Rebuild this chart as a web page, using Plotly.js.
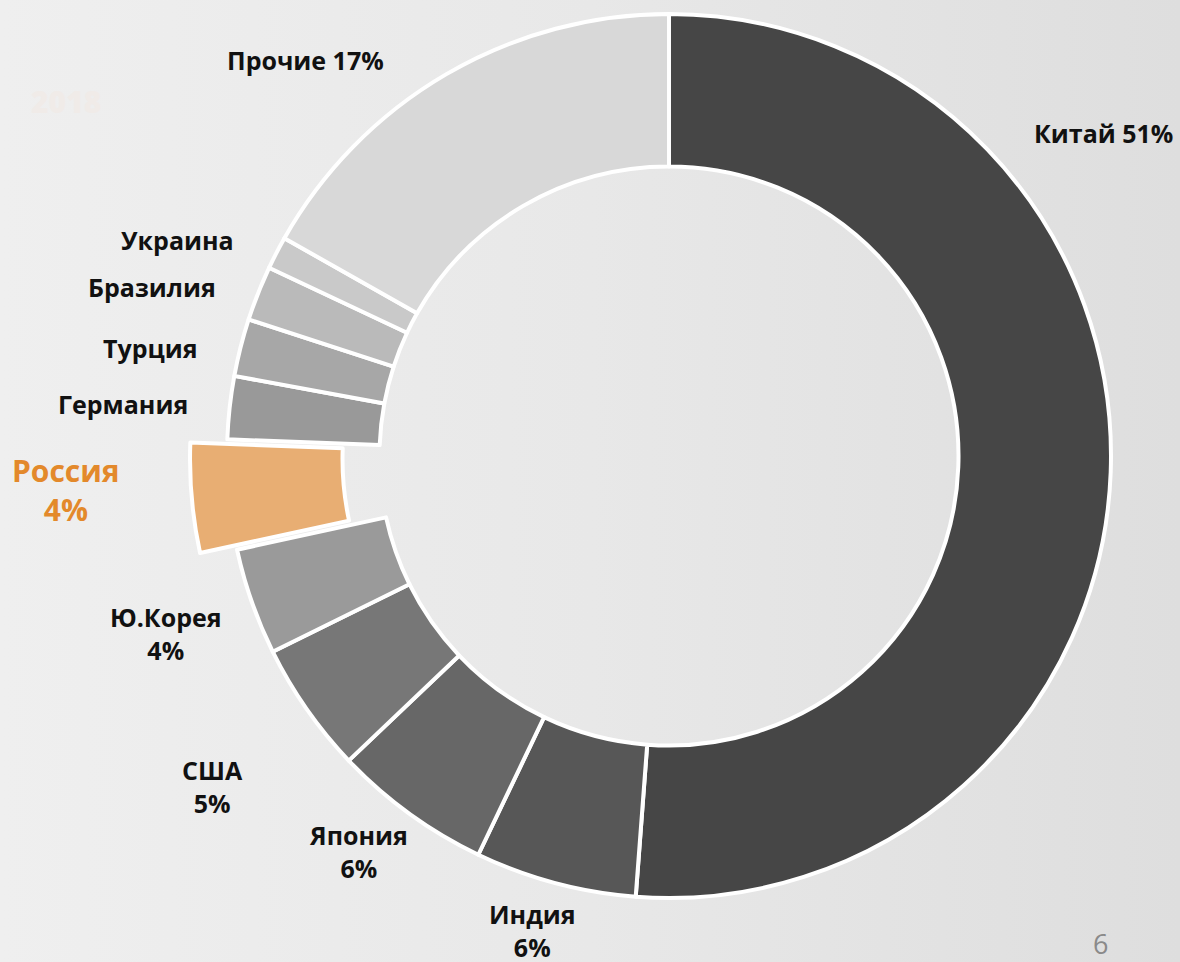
<!DOCTYPE html>
<html>
<head>
<meta charset="utf-8">
<script src="https://cdn.plot.ly/plotly-3.0.1.min.js"></script>
<style>
  html, body { margin: 0; padding: 0; width: 1180px; height: 962px; overflow: hidden;
    background: linear-gradient(90deg, #efefef 0%, #e8e8e8 50%, #dedede 100%); }
  #chart { position: absolute; left: 0; top: -40px; width: 1180px; height: 1020px; }
</style>
</head>
<body>
<div id="chart"></div>
<script>
// ---- data ----
const countries = ["Китай", "Индия", "Япония", "США", "Ю.Корея", "Россия", "Германия", "Турция", "Бразилия", "Украина", "Прочие"];
const shares = [51.2, 5.9, 5.8, 4.8, 3.9, 4.0, 2.3, 2.1, 2.0, 1.2, 16.8];
const labelTexts = ["Китай 51%", "Индия<br>6%", "Япония<br>6%", "США<br>5%", "Ю.Корея<br>4%", "Россия<br>4%", "Германия", "Турция", "Бразилия", "Украина", "Прочие 17%"];

// ---- styling ----
const colors = ["#464646", "#575757", "#676767", "#777777", "#9a9a9a", "#e8ae73", "#999999", "#a7a7a7", "#bababa", "#c9c9c9", "#d8d8d8"];
const pulls = countries.map(c => c === "Россия" ? 0.084 : 0);
// label anchor positions in page pixels
const labelPos = [[1103, 133], [532, 930], [358, 851], [212, 786], [166, 633], [66, 490], [123, 404], [150, 348], [152, 287], [177, 240], [305, 60]];

const W = 1180, H = 1020, OFF = 40;
const px = (X, Y) => ({ x: X / W, y: 1 - (Y + OFF) / H });

const annotations = countries.map((c, i) => {
  const p = px(labelPos[i][0], labelPos[i][1]);
  const isRu = c === "Россия";
  return {
    xref: "paper", yref: "paper", x: p.x, y: p.y, xanchor: "center", yanchor: "middle",
    text: labelTexts[i], showarrow: false, align: "center",
    font: { family: "Open Sans", size: isRu ? 30 : 25, weight: 700, color: isRu ? "#e3892b" : "#111111" }
  };
});
const pg = px(1100, 943);
annotations.push({ xref: "paper", yref: "paper", x: pg.x, y: pg.y, xanchor: "center", yanchor: "middle",
  text: "6", showarrow: false, font: { family: "Open Sans", size: 27, color: "#8a8a8a" } });
const wm = px(66, 102);
annotations.push({ xref: "paper", yref: "paper", x: wm.x, y: wm.y, xanchor: "center", yanchor: "middle",
  text: "2018", showarrow: false, font: { family: "Open Sans", size: 30, weight: 800, color: "#f0ebe8" } });

const cx = 669, cy = 456 + OFF, half = 442 * 1.084;
const trace = {
  type: "pie",
  labels: countries,
  values: shares,
  sort: false,
  direction: "clockwise",
  rotation: 0,
  hole: 0.655,
  pull: pulls,
  textinfo: "none",
  hoverinfo: "label+percent",
  marker: { colors: colors, line: { color: "#ffffff", width: 4 } },
  domain: { x: [(cx - half) / W, (cx + half) / W], y: [(H - cy - half) / H, (H - cy + half) / H] }
};

const layout = {
  width: W, height: H,
  margin: { l: 0, r: 0, t: 0, b: 0 },
  paper_bgcolor: "rgba(0,0,0,0)",
  plot_bgcolor: "rgba(0,0,0,0)",
  showlegend: false,
  annotations: annotations
};

Plotly.newPlot("chart", [trace], layout, { displayModeBar: false, staticPlot: true });
</script>
</body>
</html>
